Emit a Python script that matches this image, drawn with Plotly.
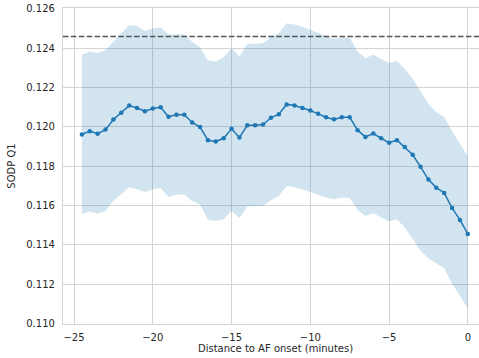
import plotly.graph_objects as go

# Minutes relative to AF onset (0.5 min steps)
minutes = [-24.5 + 0.5 * i for i in range(50)]

sodp_mean = [
    0.11961, 0.11978, 0.11965, 0.11986, 0.12037, 0.12071, 0.12108, 0.12096, 0.12079, 0.12093,
    0.12099, 0.12051, 0.12062, 0.12062, 0.12022, 0.11999, 0.11932, 0.11926, 0.11942, 0.11990,
    0.11946, 0.12008, 0.12008, 0.12012, 0.12046, 0.12064, 0.12114, 0.12108, 0.12096, 0.12083,
    0.12066, 0.12049, 0.12038, 0.12049, 0.12049, 0.11983, 0.11949, 0.11966, 0.11942, 0.11919,
    0.11932, 0.11897, 0.11858, 0.11797, 0.11732, 0.11691, 0.11664, 0.11588, 0.11527, 0.11456,
]

sodp_upper = [
    0.12366, 0.12383, 0.12375, 0.12391, 0.12433, 0.12476, 0.12518, 0.12513, 0.12489, 0.12501,
    0.12506, 0.12469, 0.12469, 0.12471, 0.12433, 0.12404, 0.12337, 0.12332, 0.12354, 0.12400,
    0.12358, 0.12422, 0.12422, 0.12425, 0.12456, 0.12476, 0.12527, 0.12520, 0.12509, 0.12493,
    0.12476, 0.12459, 0.12446, 0.12454, 0.12451, 0.12383, 0.12349, 0.12366, 0.12344, 0.12324,
    0.12336, 0.12294, 0.12243, 0.12180, 0.12118, 0.12074, 0.12051, 0.11978, 0.11915, 0.11850,
]

sodp_lower = [
    0.11556, 0.11570, 0.11558, 0.11573, 0.11623, 0.11657, 0.11693, 0.11683, 0.11669, 0.11683,
    0.11689, 0.11644, 0.11656, 0.11656, 0.11623, 0.11605, 0.11526, 0.11521, 0.11531, 0.11573,
    0.11536, 0.11595, 0.11595, 0.11598, 0.11628, 0.11649, 0.11699, 0.11693, 0.11683, 0.11669,
    0.11657, 0.11640, 0.11632, 0.11640, 0.11640, 0.11578, 0.11547, 0.11561, 0.11539, 0.11519,
    0.11531, 0.11489, 0.11430, 0.11370, 0.11332, 0.11308, 0.11281, 0.11202, 0.11142, 0.11075,
]

reference_level = 0.12459

x_ticks = [-25, -20, -15, -10, -5, 0]
y_ticks = [0.110, 0.112, 0.114, 0.116, 0.118, 0.120, 0.122, 0.124, 0.126]

blue = "#1f77b4"
grid = "#d4d4d4"
font = "DejaVu Sans"

fig = go.Figure()

# Confidence band
fig.add_trace(go.Scatter(
    x=minutes, y=sodp_upper, mode="lines", line=dict(width=0),
    hoverinfo="skip", showlegend=False,
))
fig.add_trace(go.Scatter(
    x=minutes, y=sodp_lower, mode="lines", line=dict(width=0),
    fill="tonexty", fillcolor="rgba(31,119,180,0.2)",
    hoverinfo="skip", showlegend=False,
))

# Mean curve
fig.add_trace(go.Scatter(
    x=minutes, y=sodp_mean, mode="lines+markers",
    line=dict(color=blue, width=1.5),
    marker=dict(color=blue, size=4.5),
    showlegend=False,
))

# Horizontal reference level
fig.add_shape(
    type="line", xref="paper", yref="y", x0=0, x1=1,
    y0=reference_level, y1=reference_level,
    line=dict(color="#555555", width=1.5, dash="5.5px,2.4px"),
)

fig.update_layout(
    width=479, height=358,
    margin=dict(l=63, r=0, t=8, b=34),
    paper_bgcolor="white", plot_bgcolor="white",
    font=dict(family=font, size=10, color="#262626"),
    xaxis=dict(
        range=[-25.70, 0.71], tickvals=x_ticks,
        showgrid=True, gridcolor=grid, gridwidth=1,
        showline=True, linecolor=grid, linewidth=1.2, mirror=True,
        zeroline=False, ticks="", ticklabelstandoff=4,
        tickfont=dict(size=10, color="#262626"),
    ),
    yaxis=dict(
        range=[0.10998, 0.12604], tickvals=y_ticks, tickformat=".3f",
        showgrid=True, gridcolor=grid, gridwidth=1,
        showline=True, linecolor=grid, linewidth=1.2, mirror=True,
        zeroline=False, ticks="", ticklabelstandoff=5,
        tickfont=dict(size=10, color="#262626"),
        title=dict(text="SODP Q1", font=dict(size=10, color="#262626"), standoff=8),
    ),
    annotations=[dict(
        text="Distance to AF onset (minutes)", xref="paper", yref="paper",
        x=0.51, y=0, yshift=-17, xanchor="center", yanchor="top",
        showarrow=False, font=dict(size=10, color="#262626"),
    )],
)

fig.write_html("out.html")
